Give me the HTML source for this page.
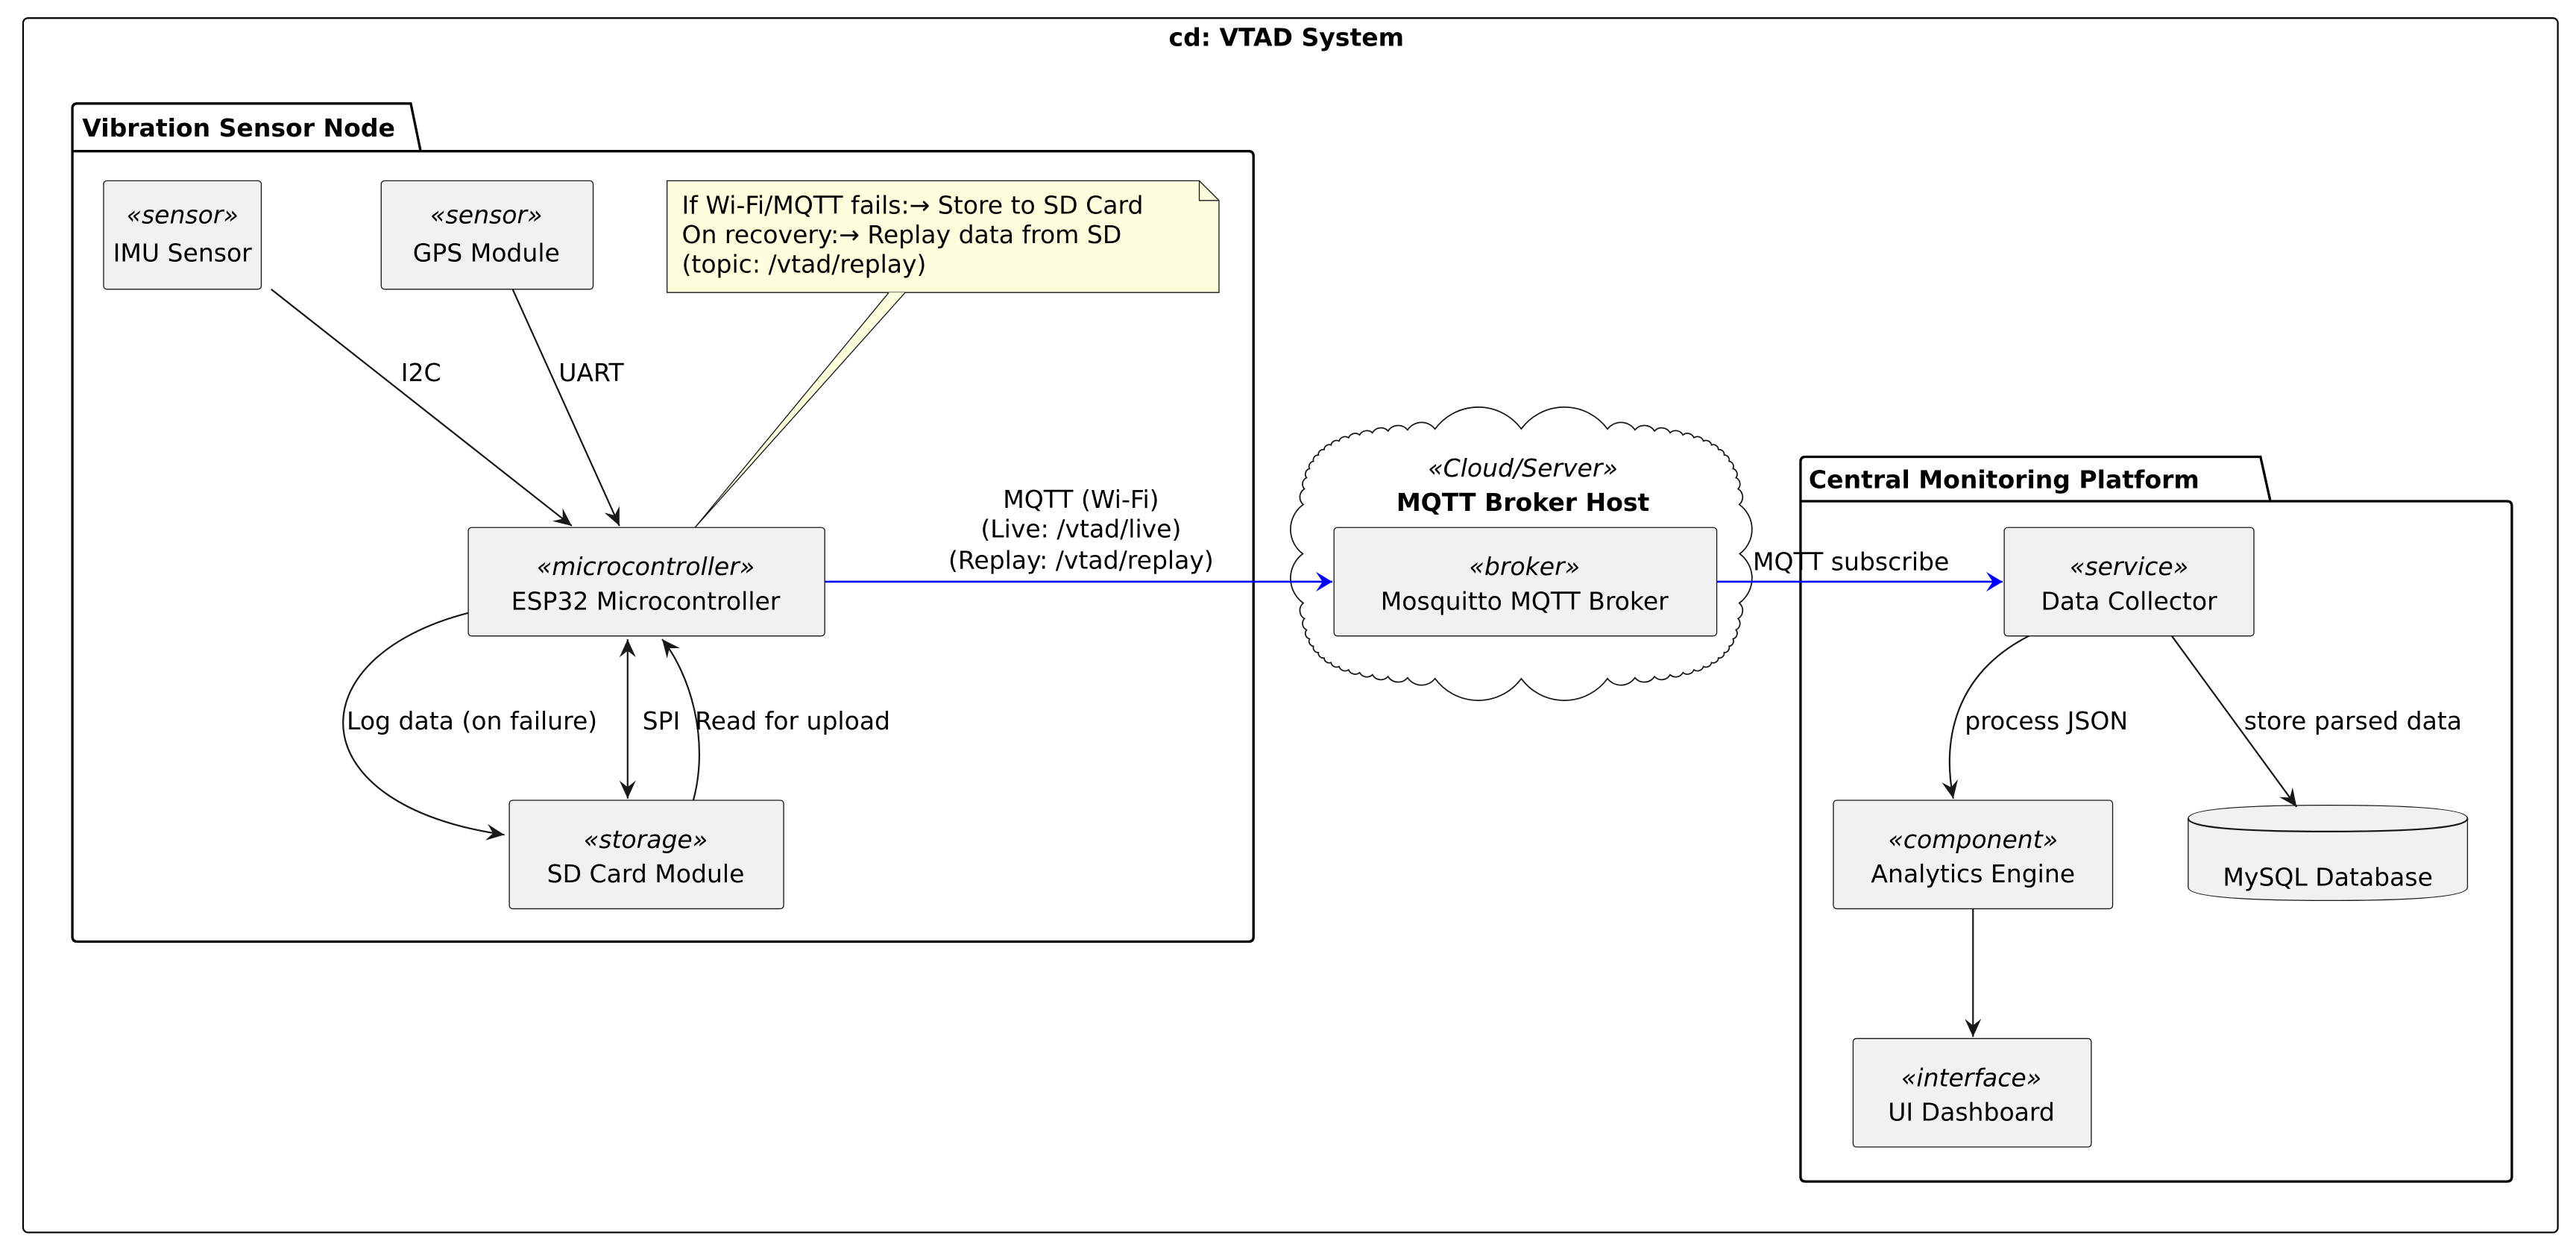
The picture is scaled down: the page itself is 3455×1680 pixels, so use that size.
<!DOCTYPE html>
<html><head><meta charset="utf-8"><style>
html,body{margin:0;padding:0;background:#fff}
svg{display:block}
text{font-family:"DejaVu Sans","Liberation Sans",sans-serif;font-size:15px;fill:#000}
.it{font-style:italic}
.b{font-weight:bold}
.box{fill:#f1f1f1;stroke:#181818;stroke-width:0.6}
.ln{fill:none;stroke:#181818;stroke-width:1}
.bl{fill:none;stroke:#0000ff;stroke-width:1.2}
</style></head><body>
<svg width="3455" height="1680" viewBox="0 0 1568 762.5" xmlns="http://www.w3.org/2000/svg">
<defs>
<marker id="a" viewBox="0 0 12 10" refX="11" refY="5" markerWidth="12" markerHeight="10" markerUnits="userSpaceOnUse" orient="auto-start-reverse"><path d="M0,0 L11,5 L0,10 L4,5 Z" fill="#181818"/></marker>
<marker id="ab" viewBox="0 0 12 12" refX="11" refY="6" markerWidth="12" markerHeight="12" markerUnits="userSpaceOnUse" orient="auto"><path d="M1,0 L11,6 L1,12 L5,6 Z" fill="#0000ff"/></marker>
</defs>
<rect x="14" y="11" width="1543" height="739" rx="3" fill="#fff" stroke="#000" stroke-width="1"/>
<text x="783" y="28" text-anchor="middle" class="b">cd: VTAD System</text>

<path d="M44,92 L44,66 Q44,63 47,63 L250,63 L256,92 L760,92 Q763,92 763,95 L763,570 Q763,573 760,573 L47,573 Q44,573 44,570 Z" fill="#fff" stroke="#000" stroke-width="1.5"/>
<line x1="44" y1="92" x2="256" y2="92" stroke="#000" stroke-width="1.5"/>
<text x="50" y="83" class="b">Vibration Sensor Node</text>

<rect class="box" x="63" y="110" width="96" height="66" rx="2"/>
<text x="111" y="136" text-anchor="middle" class="it">«sensor»</text>
<text x="111" y="159" text-anchor="middle">IMU Sensor</text>

<rect class="box" x="232" y="110" width="129" height="66" rx="2"/>
<text x="296" y="136" text-anchor="middle" class="it">«sensor»</text>
<text x="296" y="159" text-anchor="middle">GPS Module</text>

<path d="M406,110 L730,110 L742,122 L742,178 L406,178 Z" fill="#feffdd" stroke="#181818" stroke-width="0.6"/>
<path d="M730,110 L730,122 L742,122" fill="none" stroke="#181818" stroke-width="0.6"/>
<text x="415" y="130">If Wi-Fi/MQTT fails:→ Store to SD Card</text>
<text x="415" y="148">On recovery:→ Replay data from SD</text>
<text x="415" y="166">(topic: /vtad/replay)</text>
<path d="M541,178 L423,321 L551,178" fill="#feffdd" stroke="#181818" stroke-width="0.6"/>

<rect class="box" x="285" y="321" width="217" height="66" rx="2"/>
<text x="393" y="350" text-anchor="middle" class="it">«microcontroller»</text>
<text x="393" y="371" text-anchor="middle">ESP32 Microcontroller</text>

<rect class="box" x="310" y="487" width="167" height="66" rx="2"/>
<text x="393" y="516" text-anchor="middle" class="it">«storage»</text>
<text x="393" y="537" text-anchor="middle">SD Card Module</text>

<line class="ln" x1="165" y1="176" x2="348" y2="320" marker-end="url(#a)"/>
<text x="244" y="232">I2C</text>
<line class="ln" x1="312" y1="176" x2="377" y2="320" marker-end="url(#a)"/>
<text x="340" y="232">UART</text>
<path class="ln" d="M285,373 C180,400 180,490 307,508" marker-end="url(#a)"/>
<text x="211" y="444">Log data (on failure)</text>
<line class="ln" x1="382" y1="389" x2="382" y2="486" marker-start="url(#a)" marker-end="url(#a)"/>
<text x="391" y="444">SPI</text>
<path class="ln" d="M422,487 C432,450 420,410 403,389" marker-end="url(#a)"/>
<text x="423" y="444">Read for upload</text>

<text x="658" y="309" text-anchor="middle">MQTT (Wi-Fi)</text>
<text x="658" y="327" text-anchor="middle">(Live: /vtad/live)</text>
<text x="658" y="346" text-anchor="middle">(Replay: /vtad/replay)</text>

<path id="cloud" fill="#fff" stroke="#181818" stroke-width="0.8" d=""/>
<text x="927" y="290" text-anchor="middle" class="it">«Cloud/Server»</text>
<text x="927" y="311" text-anchor="middle" class="b">MQTT Broker Host</text>
<rect class="box" x="812" y="321" width="233" height="66" rx="2"/>
<text x="928" y="350" text-anchor="middle" class="it">«broker»</text>
<text x="928" y="371" text-anchor="middle">Mosquitto MQTT Broker</text>

<path d="M1096,305 L1096,281 Q1096,278 1099,278 L1376,278 L1382,305 L1526,305 Q1529,305 1529,308 L1529,716 Q1529,719 1526,719 L1099,719 Q1096,719 1096,716 Z" fill="#fff" stroke="#000" stroke-width="1.5"/>
<line x1="1096" y1="305" x2="1382" y2="305" stroke="#000" stroke-width="1.5"/>
<text x="1101" y="297" class="b">Central Monitoring Platform</text>

<rect class="box" x="1220" y="321" width="152" height="66" rx="2"/>
<text x="1296" y="350" text-anchor="middle" class="it">«service»</text>
<text x="1296" y="371" text-anchor="middle">Data Collector</text>

<rect class="box" x="1116" y="487" width="170" height="66" rx="2"/>
<text x="1201" y="516" text-anchor="middle" class="it">«component»</text>
<text x="1201" y="537" text-anchor="middle">Analytics Engine</text>

<path class="box" d="M1332,498 Q1332,490 1417,490 Q1502,490 1502,498 L1502,540 Q1502,548 1417,548 Q1332,548 1332,540 Z"/>
<path class="ln" stroke-width="0.6" d="M1332,498 Q1332,506 1417,506 Q1502,506 1502,498"/>
<text x="1417" y="539" text-anchor="middle">MySQL Database</text>

<rect class="box" x="1128" y="632" width="145" height="66" rx="2"/>
<text x="1200" y="661" text-anchor="middle" class="it">«interface»</text>
<text x="1200" y="682" text-anchor="middle">UI Dashboard</text>

<path class="ln" d="M1235,387 C1190,410 1182,450 1189,486" marker-end="url(#a)"/>
<text x="1196" y="444">process JSON</text>
<line class="ln" x1="1322" y1="387" x2="1398" y2="491" marker-end="url(#a)"/>
<text x="1366" y="444">store parsed data</text>
<line class="ln" x1="1201" y1="553" x2="1201" y2="631" marker-end="url(#a)"/>

<line class="bl" x1="502" y1="354" x2="811" y2="354" marker-end="url(#ab)"/>
<line class="bl" x1="1045" y1="354" x2="1219" y2="354" marker-end="url(#ab)"/>
<text x="1067" y="347">MQTT subscribe</text>
</svg>
<script>
(function(){
var x0=790,y0=258,x1=1062,y1=416;
var cx=(x0+x1)/2,cy=(y0+y1)/2,a=(x1-x0)/2-3,b=(y1-y0)/2-3;
var N=64,P=[];
for(var i=0;i<N;i++){var t=i/N*2*Math.PI;var c=Math.cos(t),s=Math.sin(t);
 var e=5;var xx=Math.sign(c)*Math.pow(Math.abs(c),2/e),yy=Math.sign(s)*Math.pow(Math.abs(s),2/e);
 P.push([cx+a*xx,cy+b*yy]);}
var d="M"+P[0][0].toFixed(1)+","+P[0][1].toFixed(1);
for(var i=0;i<N;i++){var p=P[i],q=P[(i+1)%N];var len=Math.hypot(q[0]-p[0],q[1]-p[1]);
 d+=" A"+(len*0.62).toFixed(1)+","+(len*0.62).toFixed(1)+" 0 0 1 "+q[0].toFixed(1)+","+q[1].toFixed(1);}
document.getElementById('cloud').setAttribute('d',d+" Z");
})();
</script>
</body></html>
